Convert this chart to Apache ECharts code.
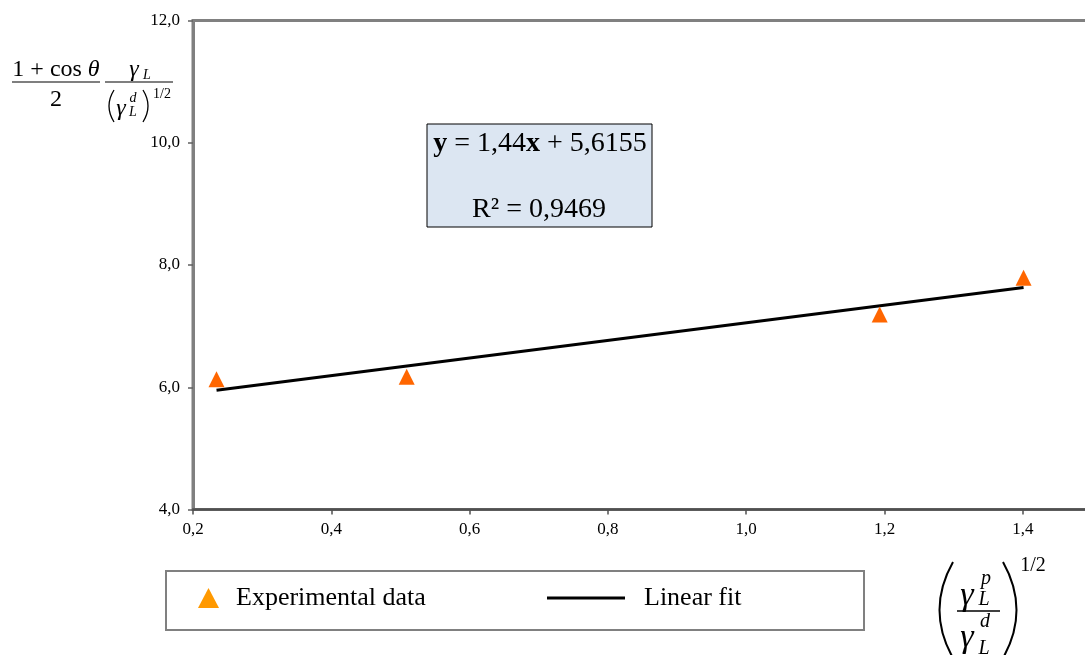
<!DOCTYPE html>
<html>
<head>
<meta charset="utf-8">
<script src="https://cdn.jsdelivr.net/npm/echarts@6/dist/echarts.min.js"></script>
<style>
  html, body { margin: 0; padding: 0; background: #fff; }
  #chart { width: 1085px; height: 655px; }
</style>
</head>
<body>
<div id="chart"></div>
<script>
var expX = [0.234, 0.509, 1.193, 1.401];
var expY = [6.13, 6.17, 7.19, 7.79];

// linear fit as printed in the box
var fitSlope = 1.44;
var fitIntercept = 5.6155;
var fitRange = [0.234, 1.401];

var yTicks = [4, 6, 8, 10, 12];
var xTicks = [0.2, 0.4, 0.6, 0.8, 1.0, 1.2, 1.4];

var serif = '"Liberation Serif", "Times New Roman", serif';

var expData = expX.map(function (x, i) { return [x, expY[i]]; });
var fitData = fitRange.map(function (x) { return [x, fitSlope * x + fitIntercept]; });

function comma(v) {
  return v.toFixed(1).replace('.', ',');
}

function txt(s, x, y, size, italic, extra) {
  var st = {
    text: s, x: x, y: y,
    fontSize: size, fontFamily: serif,
    fontStyle: italic ? 'italic' : 'normal',
    fill: '#000', align: 'center', verticalAlign: 'middle'
  };
  if (extra) for (var k in extra) st[k] = extra[k];
  return { type: 'text', z: 10, style: st };
}

function hline(x1, x2, y, w) {
  return { type: 'line', z: 10, shape: { x1: x1, y1: y, x2: x2, y2: y }, style: { stroke: '#000', lineWidth: w || 1 } };
}

function paren(x1, y1, y2, cpx, w) {
  return { type: 'bezierCurve', z: 10, shape: { x1: x1, y1: y1, x2: x1, y2: y2, cpx1: cpx, cpy1: (y1 + y2) / 2 }, style: { stroke: '#000', lineWidth: w || 2, fill: 'none' } };
}

var chart = echarts.init(document.getElementById('chart'));

chart.setOption({
  animation: false,
  backgroundColor: '#fff',
  grid: {
    left: 193,
    top: 20.5,
    width: 899,
    height: 489,
    outerBoundsMode: 'none',
    show: true,
    borderColor: '#808080',
    borderWidth: 3,
    backgroundColor: 'transparent'
  },
  xAxis: {
    type: 'value',
    min: 0.2,
    max: 1.5,
    interval: 0.2,
    axisLine: { lineStyle: { color: '#505050', width: 2.5 } },
    axisTick: { show: true, length: 5, lineStyle: { color: '#505050', width: 1.5 } },
    axisLabel: {
      margin: 12,
      color: '#000',
      fontFamily: serif,
      fontSize: 17,
      showMaxLabel: false,
      formatter: function (v) { return xTicks.indexOf(Math.round(v * 10) / 10) >= 0 ? comma(v) : ''; }
    },
    splitLine: { show: false }
  },
  yAxis: {
    type: 'value',
    min: 4,
    max: 12,
    interval: 2,
    axisLine: { show: true, lineStyle: { color: '#808080', width: 3 } },
    axisTick: { show: true, length: 5, lineStyle: { color: '#606060', width: 1.5 } },
    axisLabel: {
      margin: 13,
      color: '#000',
      fontFamily: serif,
      fontSize: 17,
      formatter: function (v) { return yTicks.indexOf(v) >= 0 ? comma(v) : ''; }
    },
    splitLine: { show: false }
  },
  legend: [
    {
      data: [{ name: 'Experimental data', icon: 'triangle', itemStyle: { color: '#FF9900' } }],
      left: 198,
      top: 585,
      padding: 0,
      itemWidth: 21,
      itemHeight: 20,
      selectedMode: false,
      textStyle: { fontFamily: serif, fontSize: 26, color: '#000', padding: [0, 0, 0, 12] }
    },
    {
      data: [{ name: 'Linear fit', icon: 'rect', itemStyle: { color: '#000' } }],
      left: 547,
      top: 585,
      padding: 0,
      itemWidth: 78,
      itemHeight: 3,
      selectedMode: false,
      textStyle: { fontFamily: serif, fontSize: 26, color: '#000', padding: [0, 0, 0, 14] }
    }
  ],
  series: [
    {
      name: 'Linear fit',
      type: 'line',
      data: fitData,
      showSymbol: false,
      symbol: 'none',
      lineStyle: { color: '#000', width: 3 },
      itemStyle: { color: '#000' },
      z: 2
    },
    {
      name: 'Experimental data',
      type: 'scatter',
      data: expData,
      symbol: 'triangle',
      symbolSize: [16, 16],
      itemStyle: { color: '#FF6600', opacity: 1 },
      z: 3
    }
  ],
  graphic: [
    // legend frame
    { type: 'rect', z: 1, shape: { x: 166, y: 571, width: 698, height: 59 }, style: { fill: 'transparent', stroke: '#808080', lineWidth: 2 } },

    // equation box
    { type: 'rect', z: 5, shape: { x: 427, y: 124, width: 225, height: 103 }, style: { fill: '#DCE6F2', stroke: '#000', lineWidth: 1 } },
    {
      type: 'text', z: 10,
      style: {
        text: '{b|y} = 1,44{b|x} + 5,6155',
        x: 540, y: 144, align: 'center', verticalAlign: 'middle',
        fontSize: 28, fontFamily: serif, fill: '#000',
        rich: { b: { fontWeight: 'bold', fontSize: 28, fontFamily: serif } }
      }
    },
    txt('R\u00b2 = 0,9469', 539, 210, 28, false),

    // y-axis title
    {
      type: 'text', z: 10,
      style: {
        text: '1 + cos {i|\u03b8}',
        x: 56, y: 70, align: 'center', verticalAlign: 'middle',
        fontSize: 24, fontFamily: serif, fill: '#000',
        rich: { i: { fontStyle: 'italic', fontSize: 24, fontFamily: serif } }
      }
    },
    hline(12, 100, 82, 1.2),
    txt('2', 56, 100, 24, false),
    txt('\u03b3', 134, 70, 24, true),
    txt('L', 147, 75, 14, true),
    hline(105, 173, 82, 1.2),
    paren(114, 90, 122, 104, 1.3),
    txt('\u03b3', 121, 109, 24, true),
    txt('d', 133, 98, 14, true),
    txt('L', 133, 112, 14, true),
    paren(143, 90, 122, 153, 1.3),
    txt('1/2', 162, 94, 14, false),

    // x-axis title
    paren(953, 562, 658, 926, 2),
    paren(1003, 562, 658, 1030, 2),
    txt('1/2', 1033, 566, 20, false),
    txt('\u03b3', 967, 596, 34, true),
    txt('p', 986, 579, 20, true),
    txt('L', 984, 600, 20, true),
    hline(957, 1000, 611, 1.5),
    txt('\u03b3', 967, 638, 34, true),
    txt('d', 985, 622, 20, true),
    txt('L', 984, 649, 20, true)
  ]
});
</script>
</body>
</html>
